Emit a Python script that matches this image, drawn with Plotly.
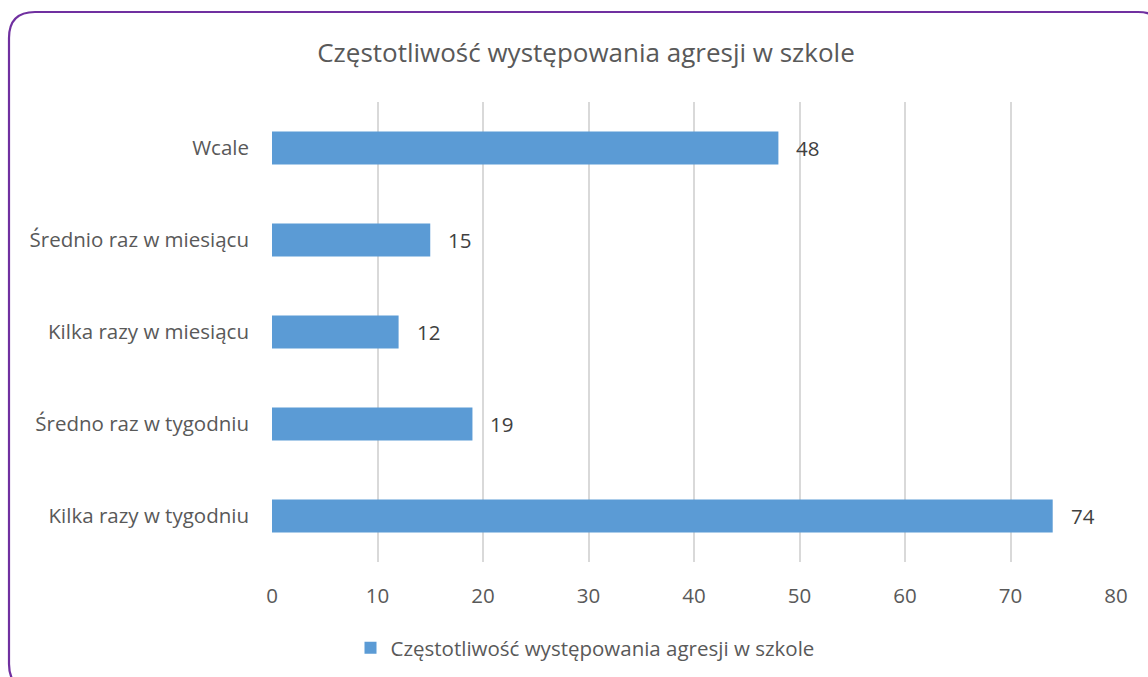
import plotly.graph_objects as go

categories = ["Wcale", "Średnio raz w miesiącu", "Kilka razy w miesiącu",
              "Średno raz w tygodniu", "Kilka razy w tygodniu"]
values = [48, 15, 12, 19, 74]
series_name = "Częstotliwość występowania agresji w szkole"
title_text = "Częstotliwość występowania agresji w szkole"
x_ticks = [0, 10, 20, 30, 40, 50, 60, 70, 80]

W, H = 1148, 677
ML, MR, MT, MB = 272, 32, 102, 115
PW = W - ML - MR
PH = H - MT - MB

FONT = "Open Sans"
BLUE = "#5B9BD5"
FS = 20.5

def px(x):
    return (x - ML) / PW

def py(y):
    return (H - MB - y) / PH

fig = go.Figure()
fig.add_trace(go.Bar(
    y=categories, x=values, orientation="h",
    name=series_name, marker=dict(color=BLUE, line=dict(width=0)),
    showlegend=True,
))

for c, v in zip(categories, values):
    fig.add_annotation(x=v, y=c, xref="x", yref="y", text=str(v),
                       showarrow=False, xanchor="left", xshift=16,
                       font=dict(family=FONT, size=FS, color="#404040"))

# rounded border
x0, y0, x1, y1, r = 9, 12, 1164, 690, 26
path = (f"M {px(x0+r)},{py(y0)} L {px(x1-r)},{py(y0)} Q {px(x1)},{py(y0)} {px(x1)},{py(y0+r)} "
        f"L {px(x1)},{py(y1-r)} Q {px(x1)},{py(y1)} {px(x1-r)},{py(y1)} "
        f"L {px(x0+r)},{py(y1)} Q {px(x0)},{py(y1)} {px(x0)},{py(y1-r)} "
        f"L {px(x0)},{py(y0+r)} Q {px(x0)},{py(y0)} {px(x0+r)},{py(y0)} Z")
fig.add_shape(type="path", path=path, xref="paper", yref="paper",
              line=dict(color="#7030A0", width=2.2), layer="above")

fig.update_layout(
    width=W, height=H,
    margin=dict(l=ML, r=MR, t=MT, b=MB, autoexpand=False),
    paper_bgcolor="white", plot_bgcolor="white",
    bargap=0.64,
    title=dict(text=title_text, x=586 / W, xanchor="center",
               y=1 - 53 / H, yanchor="middle",
               font=dict(family=FONT, size=26, color="#595959")),
    xaxis=dict(range=[0, 80], tickvals=x_ticks, showgrid=True,
               gridcolor="#D9D9D9", gridwidth=1.5, zeroline=False,
               showline=False, ticks="", ticklabelstandoff=19,
               tickfont=dict(family=FONT, size=FS, color="#595959")),
    yaxis=dict(autorange="reversed", showgrid=False, zeroline=False,
               showline=False, ticks="", ticklabelstandoff=22,
               tickfont=dict(family=FONT, size=FS, color="#595959")),
    legend=dict(orientation="h", x=px(585), xanchor="center",
                y=py(648), yanchor="middle",
                font=dict(family=FONT, size=FS, color="#595959"),
                itemwidth=30, bgcolor="rgba(0,0,0,0)"),
)

fig.write_html("out.html", config={"displayModeBar": False},
               post_script="document.body.style.margin='0';document.body.style.overflow='hidden';")
